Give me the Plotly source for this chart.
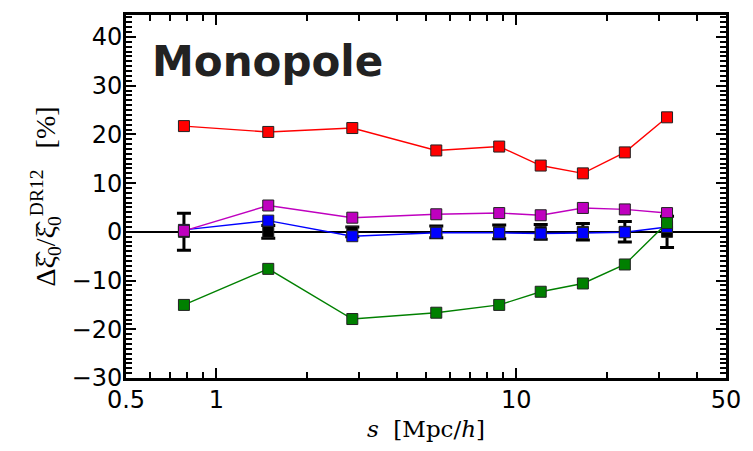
import plotly.graph_objects as go

# data
s_vals = [0.78, 1.49, 2.84, 5.41, 8.77, 12.06, 16.67, 23.0, 31.8]
ref_vals = [0, 0, 0, 0, 0, 0, 0, 0, 0]
ref_err = [3.8, 1.3, 1.0, 1.2, 1.4, 1.5, 1.7, 2.1, 3.2]
red_vals = [21.7, 20.5, 21.3, 16.7, 17.5, 13.6, 12.0, 16.3, 23.5]
blue_vals = [0.4, 2.3, -0.9, -0.2, -0.2, -0.35, -0.25, -0.1, 1.0]
magenta_vals = [0.2, 5.4, 2.9, 3.6, 3.85, 3.4, 4.9, 4.6, 3.85]
green_vals = [-15.0, -7.6, -17.9, -16.6, -15.0, -12.3, -10.6, -6.7, 1.8]

x_ticks = [0.5, 1, 10, 50]
x_ticktext = ["0.5", "1", "10", "50"]
x_minor = [0.6, 0.7, 0.8, 0.9, 2, 3, 4, 5, 6, 7, 8, 9, 20, 30, 40]
y_ticks = [-30, -20, -10, 0, 10, 20, 30, 40]
y_ticktext = ["\u221230", "\u221220", "\u221210", "0", "10", "20", "30", "40"]

fig = go.Figure()

edge = dict(color="#222222", width=1)

fig.add_trace(go.Scatter(
    x=s_vals, y=ref_vals, mode="markers",
    marker=dict(symbol="square", size=11, color="black", line=edge),
    error_y=dict(type="data", array=ref_err, visible=True, color="black", thickness=3, width=7),
    showlegend=False))

for vals, col in [(red_vals, "#ff0000"), (blue_vals, "#0000ff"),
                  (magenta_vals, "#bf00bf"), (green_vals, "#008000")]:
    fig.add_trace(go.Scatter(
        x=s_vals, y=vals, mode="lines+markers",
        line=dict(color=col, width=1.4),
        marker=dict(symbol="square", size=11, color=col, line=edge),
        showlegend=False))

fig.add_annotation(
    text="<b>Monopole</b>", xref="paper", yref="paper", x=0.04, y=0.872,
    xanchor="left", yanchor="middle", showarrow=False,
    font=dict(family="DejaVu Sans", size=42, color="#222222"))

fig.update_layout(
    width=753, height=451,
    margin=dict(l=126, r=18, t=13, b=71),
    paper_bgcolor="white", plot_bgcolor="white",
    font=dict(family="DejaVu Sans", size=24, color="black"),
    xaxis=dict(
        type="log", range=[-0.30103, 1.69897],
        tickmode="array", tickvals=x_ticks, ticktext=x_ticktext,
        ticks="inside", ticklen=10, tickwidth=2, tickcolor="black",
        ticklabelstandoff=-2,
        showline=True, linecolor="black", linewidth=3, mirror="allticks",
        showgrid=False, zeroline=False,
        minor=dict(tickmode="array", tickvals=x_minor, ticks="inside",
                   ticklen=6, tickwidth=1.5, tickcolor="black", showgrid=False),
        title=dict(text="<i>s</i>  [Mpc/<i>h</i>]", standoff=9,
                   font=dict(family="DejaVu Serif", size=23)),
    ),
    yaxis=dict(
        range=[-30, 44.5],
        tickmode="array", tickvals=y_ticks, ticktext=y_ticktext,
        ticks="inside", ticklen=10, tickwidth=2, tickcolor="black",
        ticklabelstandoff=-4,
        showline=True, linecolor="black", linewidth=3, mirror="allticks",
        showgrid=False,
        zeroline=True, zerolinecolor="black", zerolinewidth=1.5,
        minor=dict(dtick=1, ticks="inside", ticklen=6, tickwidth=1.5,
                   tickcolor="black", showgrid=False),
        title=dict(text="\u0394\u03be\u0302<sub>0</sub>/\u03be\u0302<sub>0</sub><sup>DR12</sup>   [%]",
                   standoff=8, font=dict(family="Liberation Serif", size=28)),
    ),
)

fig.write_html("out.html")
